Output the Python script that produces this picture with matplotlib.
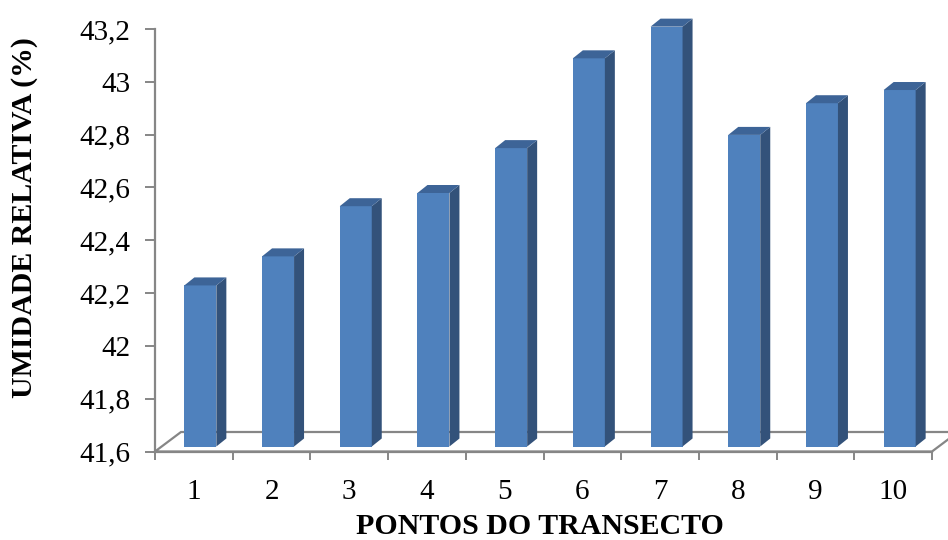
import numpy as np
import matplotlib
matplotlib.use("Agg")
from matplotlib import pyplot as plt
from matplotlib.patches import Polygon

# umidade relativa média por ponto do transecto
pontos = ["1", "2", "3", "4", "5", "6", "7", "8", "9", "10"]
umidade = [42.21, 42.32, 42.51, 42.56, 42.73, 43.07, 43.19, 42.78, 42.90, 42.95]
y_ticks = [41.6, 41.8, 42.0, 42.2, 42.4, 42.6, 42.8, 43.0, 43.2]
y_tick_labels = ["41,6", "41,8", "42", "42,2", "42,4", "42,6", "42,8", "43", "43,2"]

FRONT = "#4F81BD"
SIDE = "#33527A"
TOP = "#3D6497"
GREY = "#868686"

plt.rcParams["font.family"] = ["Liberation Serif", "DejaVu Serif"]

fig = plt.figure(figsize=(9.48, 5.4), dpi=100)
ax = fig.add_axes([155 / 948, 1 - 451.5 / 540, 777 / 948, 422.5 / 540])

y_min, y_max = y_ticks[0], y_ticks[-1]
ax.set_xlim(0.5, len(pontos) + 0.5)
ax.set_ylim(y_min, y_max)

# pixel -> data conversions for the fake 3d depth
px_x = (len(pontos)) / 777.0
px_y = (y_max - y_min) / 422.5

# floor of the 3d plot
floor_dx, floor_dy = 26 * px_x, 19.5 * px_y
x0, x1 = 0.5, len(pontos) + 0.5
floor = Polygon([(x0, y_min), (x1, y_min), (x1 + floor_dx, y_min + floor_dy),
                 (x0 + floor_dx, y_min + floor_dy)], closed=True,
                facecolor="white", edgecolor=GREY, linewidth=1.6,
                clip_on=False, zorder=1)
ax.add_patch(floor)

# bars: front face with ax.bar, then side and top faces
bar_w = 32 * px_x
shift_x, shift_y = 6.5 * px_x, 5 * px_y
depth_x, depth_y = 10 * px_x, 8 * px_y
xs = np.arange(1, len(pontos) + 1)
base = y_min + shift_y
heights = [v - y_min for v in umidade]
bars = ax.bar(xs + shift_x, heights, width=bar_w, bottom=base, color=FRONT,
              edgecolor="none", zorder=3, clip_on=False)
for b in bars:
    left = b.get_x()
    right = left + b.get_width()
    top = b.get_y() + b.get_height()
    side = Polygon([(right, base), (right + depth_x, base + depth_y),
                    (right + depth_x, top + depth_y), (right, top)],
                   closed=True, facecolor=SIDE, edgecolor="none", zorder=3, clip_on=False)
    cap = Polygon([(left, top), (right, top), (right + depth_x, top + depth_y),
                   (left + depth_x, top + depth_y)],
                  closed=True, facecolor=TOP, edgecolor="none", zorder=3, clip_on=False)
    ax.add_patch(side)
    ax.add_patch(cap)

# axes styling
for s in ["top", "right"]:
    ax.spines[s].set_visible(False)
ax.spines["left"].set_color(GREY)
ax.spines["left"].set_linewidth(1.6)
ax.spines["bottom"].set_color(GREY)
ax.spines["bottom"].set_linewidth(1.6)
ax.spines["bottom"].set_zorder(2)

ax.set_yticks(y_ticks)
ax.set_yticklabels(y_tick_labels, fontsize=21)
ax.tick_params(axis="y", direction="out", length=7, width=1.4, color=GREY, pad=11)

ax.set_xticks(xs)
ax.set_xticklabels(pontos, fontsize=21)
ax.set_xticks(np.arange(0.5, len(pontos) + 1, 1.0), minor=True)
ax.tick_params(axis="x", which="major", length=0, pad=20)
ax.tick_params(axis="x", which="minor", direction="out", length=6, width=1.4, color=GREY)

# axis titles placed in figure pixels
fig.text(25 / 948, 1 - 218 / 540, "UMIDADE RELATIVA (%)", fontsize=21.5,
         fontweight="bold", rotation=90, ha="center", va="center")
fig.text(540 / 948, 1 - 527 / 540, "PONTOS DO TRANSECTO", fontsize=21.5,
         fontweight="bold", ha="center", va="center")

fig.savefig("out.png", dpi=100)
